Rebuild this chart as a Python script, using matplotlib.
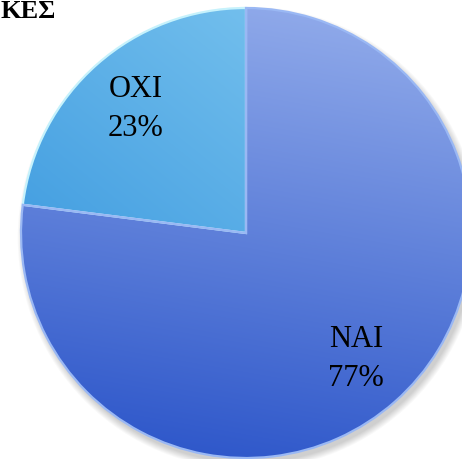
import numpy as np
import matplotlib.pyplot as plt
from matplotlib.patches import Circle

# poll answers
labels = ["OXI", "NAI"]
values = [23, 77]
title = "ΚΕΣ"

fig = plt.figure(figsize=(4.62, 4.60), dpi=100)
ax = fig.add_axes([0, 0, 1, 1])

cx, cy, r = 246, 226, 225

# soft shadow under the pie
for k in range(8):
    ax.add_patch(Circle((cx + 3, cy - 5), r + k * 0.9, color='black',
                        alpha=0.025, lw=0, zorder=1))

wedges, _ = ax.pie(values, startangle=90, counterclock=True, center=(cx, cy),
                   radius=r, explode=[0.012, 0], frame=True)

ax.set_xlim(0, 462)
ax.set_ylim(0, 460)
ax.axis('off')

# gradient fills clipped to each wedge
n = 300
xs = np.linspace(cx - r, cx + r, n)
ys = np.linspace(cy - r, cy + r, n)
X, Y = np.meshgrid(xs, ys)
tv = (cy + r - Y) / (2 * r)   # 0 at top, 1 at bottom
th = (X - (cx - r)) / (2 * r)  # 0 at left, 1 at right

def blend(c0, c1, t):
    c0 = np.array(c0) / 255.0
    c1 = np.array(c1) / 255.0
    t = np.clip(t, 0, 1)[..., None]
    return c0 * (1 - t) + c1 * t

grads = {
    "NAI": blend((150, 175, 236), (40, 82, 200), 0.85 * tv + 0.15 * (1 - th)),
    "OXI": blend((135, 205, 242), (48, 145, 220), 0.6 * tv + 0.4 * (1 - th) * 1.2),
}
edges = {"NAI": "#9ab8f4", "OXI": "#c6f2fc"}

for w, lab in zip(wedges, labels):
    w.set_facecolor('none')
    w.set_edgecolor(edges[lab])
    w.set_linewidth(1.6)
    w.set_zorder(4)
    im = ax.imshow(grads[lab], extent=(cx - r, cx + r, cy - r, cy + r),
                   origin='lower', zorder=3, interpolation='bilinear')
    im.set_clip_path(w)

ax.set_xlim(0, 462)
ax.set_ylim(0, 460)

# category labels at the middle of each slice
total = sum(values)
start = 90.0
for lab, v in zip(labels, values):
    span = 360.0 * v / total
    mid = np.deg2rad(start + span / 2)
    d = 0.74 * r
    ax.text(cx + d * np.cos(mid), cy + d * np.sin(mid),
            f"{lab}\n{v}%", ha='center', va='center', fontsize=22,
            family='Liberation Serif', linespacing=1.45, zorder=5)
    start += span

ax.text(0, 460 - 18, title, fontsize=19, fontweight='bold',
        family='Liberation Serif', ha='left', va='baseline', zorder=5)

fig.savefig("out.png", dpi=100)
